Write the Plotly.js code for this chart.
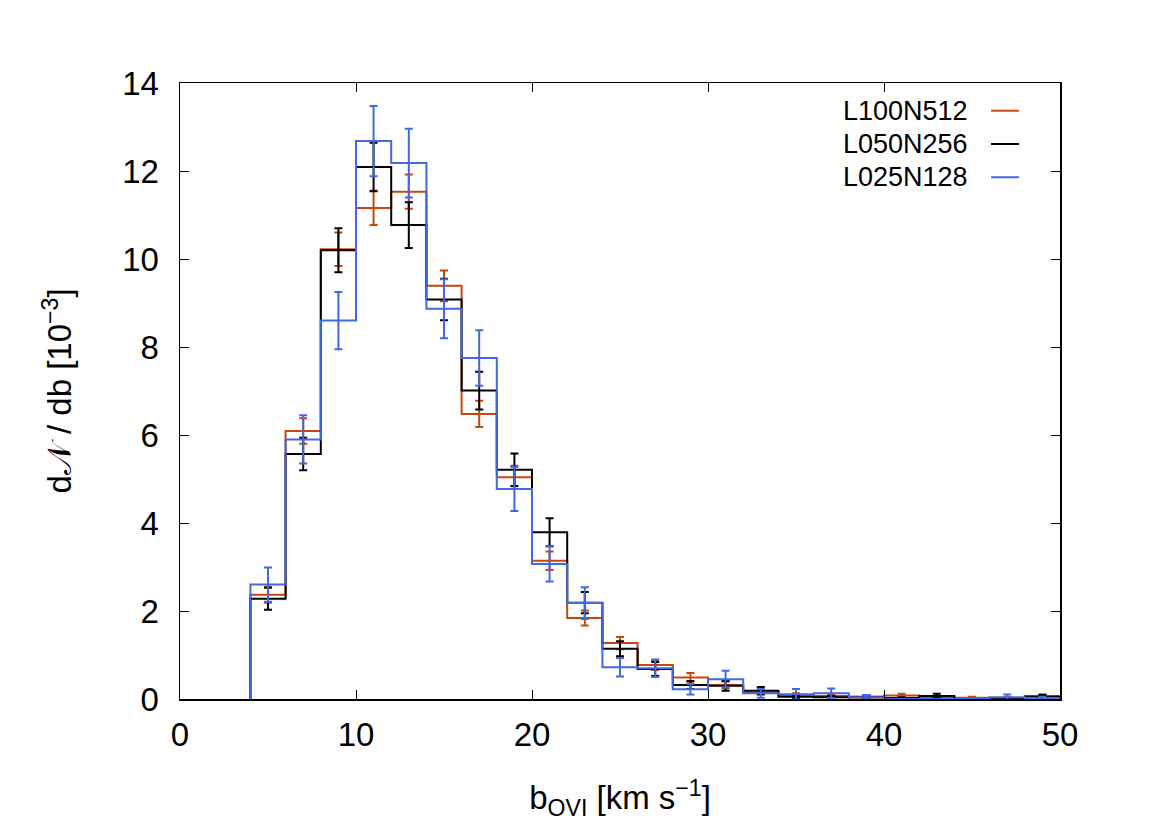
<!DOCTYPE html>
<html>
<head>
<meta charset="utf-8">
<script src="https://cdn.plot.ly/plotly-3.0.1.min.js"></script>
<style>html,body{margin:0;padding:0;background:#fff;}#chart{width:1170px;height:827px;}</style>
</head>
<body>
<div id="chart"></div>
<script>
// Bin centres (bins of width 2 km/s from 4 to 50)
const binCenters = [5,7,9,11,13,15,17,19,21,23,25,27,29,31,33,35,37,39,41,43,45,47,49];
const binWidth = 2;

const seriesNames = ["L100N512", "L050N256", "L025N128"];

// dN/db [10^-3]
const valsL100 = [2.37,6.09,10.22,11.16,11.53,9.39,6.48,5.04,3.14,1.84,1.27,0.77,0.49,0.32,0.15,0.09,0.07,0.03,0.08,0.04,0.03,0.02,0.07];
const errsL100 = [0.18,0.29,0.38,0.39,0.39,0.35,0.30,0.26,0.21,0.17,0.14,0.11,0.10,0.08,0.05,0.04,0.04,0.02,0.04,0.03,0.02,0.02,0.04];

const valsL050 = [2.28,5.57,10.20,12.09,10.77,9.08,7.01,5.21,3.79,2.19,1.14,0.68,0.32,0.30,0.19,0.05,0.04,0.05,0.02,0.07,0.00,0.00,0.05];
const errsL050 = [0.25,0.37,0.50,0.55,0.52,0.47,0.43,0.37,0.32,0.24,0.17,0.16,0.09,0.11,0.08,0.04,0.03,0.04,0.02,0.05,0.00,0.00,0.04];

const valsL025 = [2.60,5.90,8.60,12.68,12.18,8.87,7.75,4.77,3.07,2.18,0.72,0.70,0.22,0.45,0.13,0.11,0.13,0.04,0.00,0.00,0.00,0.04,0.02];
const errsL025 = [0.39,0.55,0.65,0.80,0.78,0.67,0.63,0.50,0.40,0.36,0.21,0.20,0.12,0.19,0.10,0.12,0.11,0.05,0.00,0.00,0.00,0.06,0.03];

const xTickVals = [0,10,20,30,40,50];
const yTickVals = [0,2,4,6,8,10,12,14];

const colors = ["#c9470c", "#000000", "#4169e1"];
const allVals = [valsL100, valsL050, valsL025];
const allErrs = [errsL100, errsL050, errsL025];

function stepXY(vals) {
  const half = binWidth / 2;
  const x = [binCenters[0] - half];
  const y = [0];
  for (let i = 0; i < binCenters.length; i++) {
    x.push(binCenters[i] - half);
    y.push(vals[i]);
  }
  x.push(binCenters[binCenters.length - 1] + half);
  y.push(vals[vals.length - 1]);
  return {x, y};
}

const traces = [];
for (let s = 0; s < 3; s++) {
  const st = stepXY(allVals[s]);
  traces.push({
    type: "scatter", mode: "lines", x: st.x, y: st.y,
    line: {shape: "hv", color: colors[s], width: 2},
    name: seriesNames[s], showlegend: false, hoverinfo: "skip"
  });
  traces.push({
    type: "scatter", mode: "markers", x: binCenters, y: allVals[s],
    marker: {size: 1, color: colors[s], opacity: 0},
    error_y: {type: "data", array: allErrs[s], visible: true, color: colors[s], thickness: 2, width: 4},
    showlegend: false, hoverinfo: "skip"
  });
}

const family = "Liberation Sans, Arial, sans-serif";
const font = {family: family, size: 33, color: "#000"};
const legendFont = {family: family, size: 27, color: "#000"};

const legendY = [0.955, 0.901, 0.847];
const annotations = [];
const shapes = [];
for (let s = 0; s < 3; s++) {
  annotations.push({
    xref: "paper", yref: "paper", x: 0.898, y: legendY[s],
    xanchor: "right", yanchor: "middle", showarrow: false,
    text: seriesNames[s], font: legendFont
  });
  shapes.push({
    type: "line", xref: "paper", yref: "paper",
    x0: 0.9216, x1: 0.9534, y0: legendY[s], y1: legendY[s],
    line: {color: colors[s], width: 2}
  });
}

const layout = {
  width: 1170, height: 827,
  margin: {l: 180, r: 110, t: 83, b: 128},
  paper_bgcolor: "#fff", plot_bgcolor: "#fff",
  font: font,
  showlegend: false,
  xaxis: {
    range: [0, 50], tickvals: xTickVals, ticks: "inside", ticklen: 9, tickwidth: 1,
    tickcolor: "#000", showline: true, linecolor: "#000", linewidth: 1.5, mirror: "ticks",
    showgrid: false, zeroline: false, tickfont: font, ticklabelstandoff: 6,
    title: {text: "b<sub>OVI</sub> [km s<sup>−1</sup>]", font: font, standoff: 34}
  },
  yaxis: {
    range: [0, 14], tickvals: yTickVals, ticks: "inside", ticklen: 9, tickwidth: 1,
    tickcolor: "#000", showline: true, linecolor: "#000", linewidth: 1.5, mirror: "ticks",
    showgrid: false, zeroline: false, tickfont: font, ticklabelstandoff: 13,
    title: {text: "d𝒩 / db [10<sup>−3</sup>]", font: font, standoff: 40}
  },
  annotations: annotations,
  shapes: shapes
};

Plotly.newPlot("chart", traces, layout, {displayModeBar: false, staticPlot: true});
</script>
</body>
</html>
